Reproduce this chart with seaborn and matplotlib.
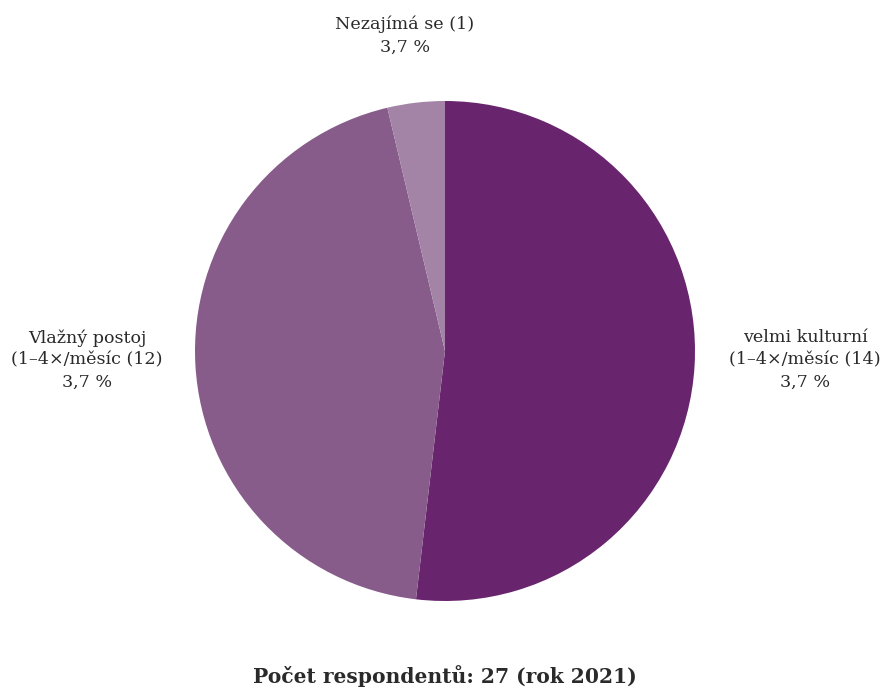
import matplotlib
matplotlib.use("Agg")
import matplotlib.pyplot as plt
import seaborn as sns

categories = ["velmi kulturní\n(1–4×/měsíc (14)", "Vlažný postoj\n(1–4×/měsíc (12)", "Nezajímá se (1)"]
counts = [14, 12, 1]
pct_labels = ["3,7 %", "3,7 %", "3,7 %"]
colors = ["#68246d", "#875c8a", "#a383a6"]
title = "Počet respondentů: 27 (rok 2021)"

sns.set_theme(style="white")
plt.rcParams["font.family"] = ["DejaVu Serif"]

fig = plt.figure(figsize=(8.81, 6.89), dpi=100)
ax = fig.add_axes([195/881, 88/689, 500/881, 500/689])
wedges, _ = ax.pie(counts, colors=colors, startangle=90, counterclock=False,
                   radius=1, wedgeprops=dict(linewidth=0))
ax.set_xlim(-1, 1)
ax.set_ylim(-1, 1)
ax.set_aspect("equal")

label_pos = [(1.44, -0.036), (-1.432, -0.036), (-0.16, 1.262)]
for (x, y), cat, pct in zip(label_pos, categories, pct_labels):
    ax.text(x, y, f"{cat}\n{pct}", ha="center", va="center", fontsize=12.6,
            color="#2a2a2a", linespacing=1.4, clip_on=False)

fig.text(445/881, 1 - 676/689, title, ha="center", va="center", fontsize=14.6,
         fontweight="bold", color="#2a2a2a")
fig.savefig("out.png", dpi=100)
